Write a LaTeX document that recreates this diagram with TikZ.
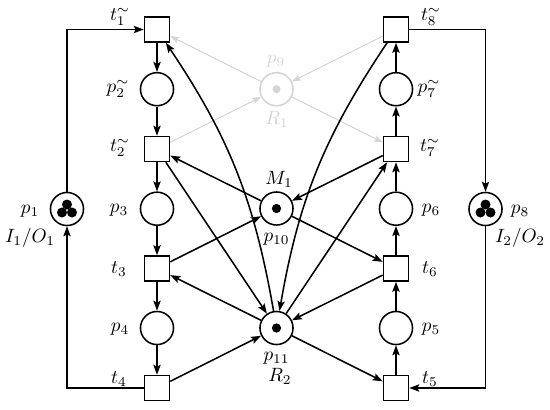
\documentclass[tikz,border=0pt]{standalone}
\usetikzlibrary{arrows.meta}
\definecolor{ghost}{RGB}{212,212,212}
\begin{document}
\begin{tikzpicture}[x=0.52pt,y=-0.52pt,
  place/.style={circle,draw,thick,minimum size=17.2pt,inner sep=0pt},
  trans/.style={rectangle,draw,thick,minimum size=13pt,inner sep=0pt},
  arc/.style={thick,-{Stealth[length=5.2pt,width=3.8pt,inset=1pt]}},
  garc/.style={line width=0.5pt,draw=ghost,-{Stealth[length=4.6pt,width=3.4pt,inset=1pt,fill=ghost]}},
  lbl/.style={inner sep=0pt},
  glbl/.style={inner sep=0pt,text=ghost}]
\useasboundingbox (0,0) rectangle (550,409);
% left column
\node[trans] (t1) at (157,29.5) {};
\node[place] (p2) at (157,89.2) {};
\node[trans] (t2) at (157,149) {};
\node[place] (p3) at (157,208.7) {};
\node[trans] (t3) at (157,268.5) {};
\node[place] (p4) at (157,328) {};
\node[trans] (t4) at (157,388) {};
% right column
\node[trans] (t8) at (396,29.5) {};
\node[place] (p7) at (396,89.2) {};
\node[trans] (t7) at (396,149) {};
\node[place] (p6) at (396,208.7) {};
\node[trans] (t6) at (396,268.5) {};
\node[place] (p5) at (396,328) {};
\node[trans] (t5) at (396,388) {};
% outer and centre places
\node[place] (p1) at (67,209) {};
\node[place] (p8) at (485.5,209) {};
\node[place] (p10) at (276.5,208.5) {};
\node[place] (p11) at (276.5,328) {};
\node[place,draw=ghost] (p9) at (276.5,89.2) {};
% tokens
\fill (p10.center) circle (2.4pt);
\fill (p11.center) circle (2.4pt);
\fill[ghost] (p9.center) circle (2.1pt);
\foreach \pp in {p1,p8}{
  \fill ([shift={(0,-4.5)}]\pp.center) circle (2.6pt);
  \fill ([shift={(-5,3.5)}]\pp.center) circle (2.6pt);
  \fill ([shift={(5,3.5)}]\pp.center) circle (2.6pt);
}
% labels
\node[lbl] (lt1) at (120,17) {$t_1^{\sim}$};
\node[lbl] (lp2) at (118,89) {$p_2^{\sim}$};
\node[lbl] (lt2) at (120,148) {$t_2^{\sim}$};
\node[lbl] (lp3) at (119,210) {$p_3$};
\node[lbl] (lt3) at (119,269) {$t_3$};
\node[lbl] (lp4) at (120,329) {$p_4$};
\node[lbl] (lt4) at (119,379) {$t_4$};
\node[lbl] (lt8) at (431,17) {$t_8^{\sim}$};
\node[lbl] (lp7) at (429,89) {$p_7^{\sim}$};
\node[lbl] (lt7) at (430,148) {$t_7^{\sim}$};
\node[lbl] (lp6) at (431,210) {$p_6$};
\node[lbl] (lt6) at (430,269) {$t_6$};
\node[lbl] (lp5) at (431,329) {$p_5$};
\node[lbl] (lt5) at (430,379) {$t_5$};
\node[lbl] (lp1) at (30,211) {$p_1$};
\node[lbl] (lio1) at (30,238) {$I_1/O_1$};
\node[lbl] (lp8) at (520,211) {$p_8$};
\node[lbl] (lio2) at (520,238) {$I_2/O_2$};
\node[lbl] (lm1) at (279,179) {$M_1$};
\node[lbl] (lp10) at (276.5,239) {$p_{10}$};
\node[lbl] (lp11) at (276.5,358) {$p_{11}$};
\node[lbl] (lr2) at (280,376) {$R_2$};
\node[glbl] (lp9) at (276,61) {$p_9$};
\node[glbl] (lr1) at (277,119) {$R_1$};
% gray arcs
\draw[garc] (t8) -- (p9);
\draw[garc] (p9) -- (t7);
\draw[garc] (p9) -- (t1);
\draw[garc] (t2) -- (p9);
% left column arcs
\draw[arc] (p1) |- (t1);
\draw[arc] (t1) -- (p2);
\draw[arc] (p2) -- (t2);
\draw[arc] (t2) -- (p3);
\draw[arc] (p3) -- (t3);
\draw[arc] (t3) -- (p4);
\draw[arc] (p4) -- (t4);
\draw[arc] (t4) -| (p1);
% right column arcs
\draw[arc] (t8) -| (p8);
\draw[arc] (p8) |- (t5);
\draw[arc] (t5) -- (p5);
\draw[arc] (p5) -- (t6);
\draw[arc] (t6) -- (p6);
\draw[arc] (p6) -- (t7);
\draw[arc] (t7) -- (p7);
\draw[arc] (p7) -- (t8);
% resource arcs
\draw[arc] (t3) -- (p10);
\draw[arc] (p11) -- (t3);
\draw[arc] (p10) -- (t2);
\draw[arc] (t2) -- (p11);
\draw[arc] (t4) -- (p11);
\draw[arc] (p11) to[bend right=12] (t1);
\draw[arc] (t7) -- (p10);
\draw[arc] (p10) -- (t6);
\draw[arc] (t6) -- (p11);
\draw[arc] (p11) -- (t5);
\draw[arc] (p11) -- (t7);
\draw[arc] (t8) to[bend right=12] (p11);
\end{tikzpicture}
\end{document}
